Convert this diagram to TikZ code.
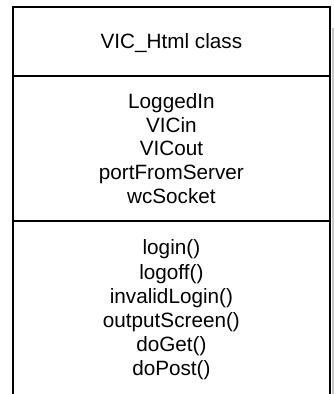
\documentclass[tikz,border=0pt]{standalone}
\usepackage{fontspec}
\setmainfont{Liberation Sans}
\begin{document}
\begin{tikzpicture}[x=1bp, y=-1bp,
  frame/.style={line width=2bp, black},
  compartment/.style={align=center, inner sep=0pt,
    font=\fontsize{20.7bp}{23.8bp}\selectfont},
  oplist/.style={compartment, font=\fontsize{20.7bp}{24.2bp}\selectfont}]
\useasboundingbox (0,0) rectangle (334,394);
% drop shadow along the right edge
\fill[gray!45] (331.5,28) rectangle (334,394);
% class box, open at the bottom
\draw[frame] (13.3,394) -- (13.3,7) -- (329.5,7) -- (329.5,394);
\draw[frame] (13.3,75.5) -- (329.5,75.5);
\draw[frame] (13.3,220.5) -- (329.5,220.5);
% compartments
\node[compartment] (title) at (171.4,43) {VIC\_Html class};
\node[compartment] (attrs) at (171.4,148.5) {LoggedIn\\VICin\\VICout\\portFromServer\\wcSocket};
\node[oplist] (methods) at (171.4,310) {login()\\logoff()\\invalidLogin()\\outputScreen()\\doGet()\\doPost()};
\end{tikzpicture}
\end{document}
